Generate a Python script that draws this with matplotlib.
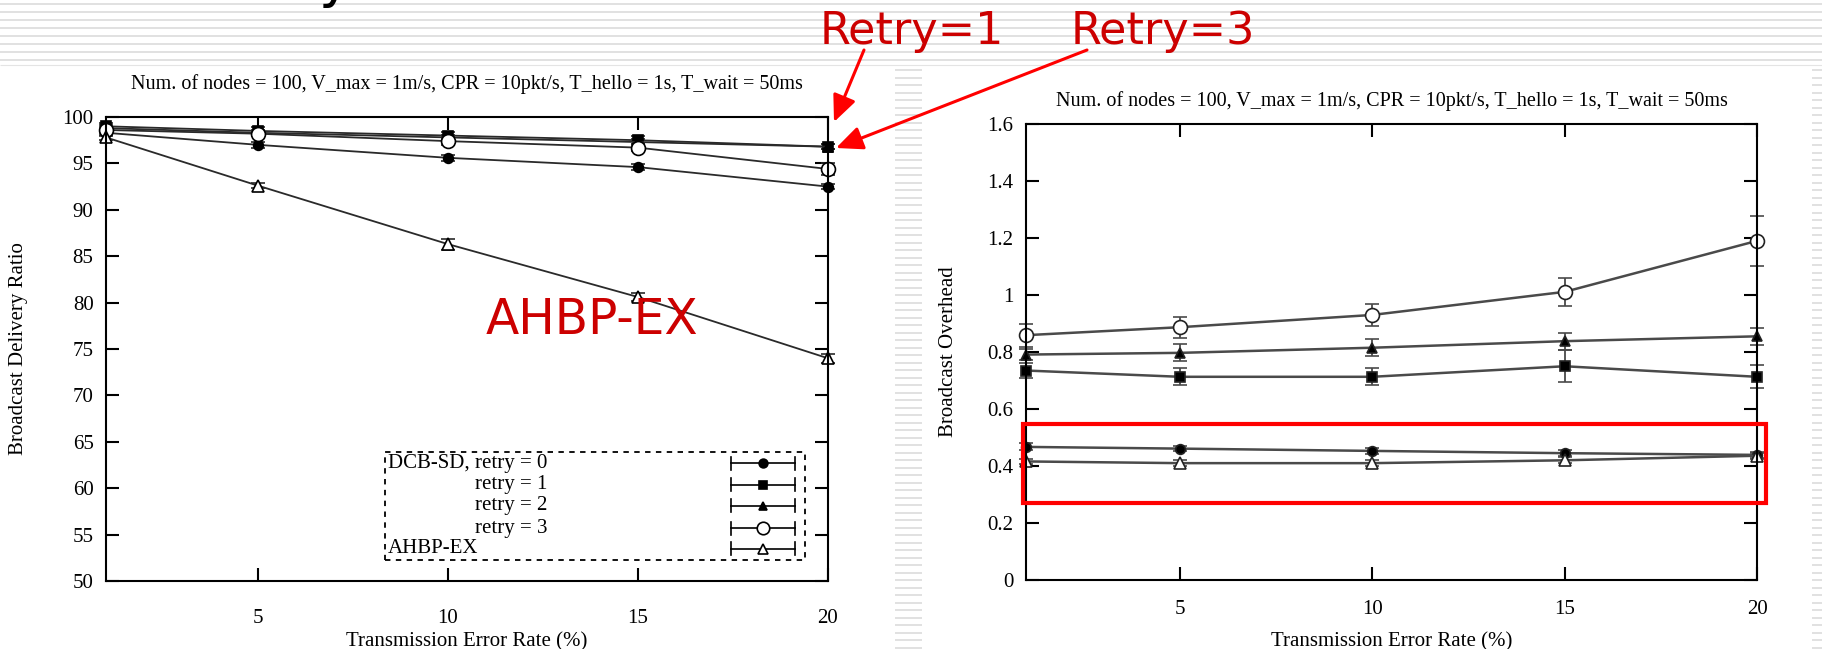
import numpy as np
import matplotlib
matplotlib.use("Agg")
import matplotlib.pyplot as plt
from matplotlib.patches import Rectangle
from matplotlib.ticker import FuncFormatter

# transmission error rate (%)
err_rate = [1, 5, 10, 15, 20]
xticks = [5, 10, 15, 20]

# broadcast delivery ratio (%)
pdr_r0 = [98.3, 97.0, 95.6, 94.6, 92.5]
pdr_r1 = [99.0, 98.5, 98.0, 97.5, 96.8]
pdr_r2 = [98.8, 98.3, 97.8, 97.3, 96.8]
pdr_r3 = [98.6, 98.2, 97.4, 96.7, 94.4]
pdr_ahbp = [97.8, 92.6, 86.3, 80.6, 74.0]
pdr_r0_err = [0.3, 0.3, 0.3, 0.3, 0.3]
pdr_r1_err = [0.3, 0.4, 0.4, 0.4, 0.3]
pdr_r2_err = [0.3, 0.3, 0.3, 0.3, 0.3]
pdr_r3_err = [0.3, 0.3, 0.4, 0.4, 0.6]
pdr_ahbp_err = [0.3, 0.3, 0.6, 0.4, 0.5]

# broadcast overhead
ovh_r0 = [0.467, 0.461, 0.453, 0.445, 0.439]
ovh_r1 = [0.735, 0.713, 0.713, 0.750, 0.713]
ovh_r2 = [0.791, 0.797, 0.815, 0.838, 0.855]
ovh_r3 = [0.859, 0.887, 0.930, 1.011, 1.190]
ovh_ahbp = [0.416, 0.410, 0.410, 0.420, 0.436]
ovh_r0_err = [0.012, 0.01, 0.01, 0.01, 0.01]
ovh_r1_err = [0.025, 0.03, 0.03, 0.057, 0.04]
ovh_r2_err = [0.02, 0.03, 0.03, 0.03, 0.03]
ovh_r3_err = [0.04, 0.037, 0.04, 0.05, 0.087]
ovh_ahbp_err = [0.01, 0.01, 0.01, 0.01, 0.01]

labels = ["DCB-SD, retry = 0", "retry = 1", "retry = 2", "retry = 3", "AHBP-EX"]
title = "Num. of nodes = 100, V_max = 1m/s, CPR = 10pkt/s, T_hello = 1s, T_wait = 50ms"

# marker, size, face
styles = [("o", 7, "black"), ("s", 7, "black"), ("^", 6.5, "black"),
          ("o", 10, "white"), ("^", 8, "white")]

plt.rcParams["font.family"] = ["Liberation Serif", "DejaVu Serif"]

W, H = 1822, 649
fig = plt.figure(figsize=(W / 100, H / 100), dpi=100)

# slide background stripes
bg = fig.add_axes([0, 0, 1, 1], zorder=-10)
bg.set_xlim(0, W)
bg.set_ylim(H, 0)
bg.axis("off")
for y in np.arange(3.5, 62, 8):
    bg.hlines(y, 0, W, color="#d8d8d8", lw=1.1)
bg.hlines(65, 0, W, color="#e4e4e4", lw=0.8)
for y in np.arange(70, H, 7.5):
    bg.hlines(y, 895, 922, color="#d8d8d8", lw=1.1)
    bg.hlines(y, 1812, W, color="#d8d8d8", lw=1.1)
fig.text(318 / W, 1 + 4 / H, "y", fontsize=40, family="DejaVu Sans",
         ha="left", va="baseline", color="black")


def style_axes(ax, xpad):
    for s in ax.spines.values():
        s.set_linewidth(1.5)
    ax.tick_params(direction="in", length=9.5, width=1.5, top=True, right=True,
                   labelsize=15)
    ax.tick_params(axis="x", pad=xpad)
    ax.tick_params(axis="y", pad=9)
    ax.set_xlim(1, 20)
    ax.set_xticks(xticks)
    ax.set_xlabel("Transmission Error Rate (%)", fontsize=15)


ax1 = fig.add_axes([106 / W, 1 - 581 / H, 722 / W, 464 / H])
ax2 = fig.add_axes([1026 / W, 1 - 580 / H, 731 / W, 456 / H])

pdr = [(pdr_r0, pdr_r0_err), (pdr_r1, pdr_r1_err), (pdr_r2, pdr_r2_err),
       (pdr_r3, pdr_r3_err), (pdr_ahbp, pdr_ahbp_err)]
ovh = [(ovh_r0, ovh_r0_err), (ovh_r1, ovh_r1_err), (ovh_r2, ovh_r2_err),
       (ovh_r3, ovh_r3_err), (ovh_ahbp, ovh_ahbp_err)]

for (vals, err), (m, ms, fc), lab in zip(pdr, styles, labels):
    ax1.errorbar(err_rate, vals, yerr=err, color="#2a2a2a", lw=1.3, marker=m,
                 ms=ms, mfc=fc, mec="black", mew=1.2, capsize=5, elinewidth=1.2,
                 capthick=1.2, clip_on=False, label=lab)
for (vals, err), (m, ms, fc) in zip(ovh, styles):
    ax2.errorbar(err_rate, vals, yerr=err, color="#4a4a4a", lw=1.8, marker=m,
                 ms=ms, mfc=fc, mec="#222222", mew=1.2, capsize=5, elinewidth=1.3,
                 capthick=1.3, clip_on=False)

style_axes(ax1, 20)
ax1.set_ylim(50, 100)
ax1.set_yticks(np.arange(50, 101, 5))
ax1.set_ylabel("Broadcast Delivery Ratio", fontsize=15)
ax1.yaxis.set_label_coords(-0.108, 0.5)
ax1.xaxis.set_label_coords(0.5, -0.11)
ax1.text(0.5, 1.071, title, transform=ax1.transAxes, ha="center", va="center",
         fontsize=14.5)

style_axes(ax2, 14.5)
ax2.set_ylim(0, 1.6)
ax2.set_yticks(np.arange(0, 1.61, 0.2))
ax2.yaxis.set_major_formatter(FuncFormatter(lambda v, p: f"{v:g}"))
ax2.set_ylabel("Broadcast Overhead", fontsize=15)
ax2.yaxis.set_label_coords(-0.093, 0.5)
ax2.xaxis.set_label_coords(0.5, -0.114)
ax2.text(0.5, 1.05, title, transform=ax2.transAxes, ha="center", va="center",
         fontsize=14.5)

# gnuplot style key, drawn by hand inside the left plot
ax1.add_patch(Rectangle((0.386, 0.045), 0.582, 0.233, transform=ax1.transAxes,
                        fill=False, lw=1.3, ls=(0, (3, 3)), ec="black", zorder=5))
key_y = [0.254, 0.207, 0.162, 0.114, 0.069]
for i, (lab, (m, ms, fc), ky) in enumerate(zip(labels, styles, key_y)):
    if i in (0, 4):
        ax1.text(0.39, ky, lab, transform=ax1.transAxes, ha="left",
                 va="center", fontsize=15)
    else:
        ax1.text(0.612, ky, lab, transform=ax1.transAxes, ha="right",
                 va="center", fontsize=15)
    ax1.plot([0.866, 0.954], [ky, ky], transform=ax1.transAxes, color="black",
             lw=1.2)
    for cx in (0.866, 0.954):
        ax1.plot([cx, cx], [ky - 0.014, ky + 0.014], transform=ax1.transAxes,
                 color="black", lw=1.2)
    ax1.plot([0.910], [ky], transform=ax1.transAxes, marker=m, ms=ms * 0.9,
             mfc=fc, mec="black", mew=1.2, ls="none")

# red slide annotations
red_txt = "#cc0000"
ax1.text(13.8, 78.1, "AHBP-EX", ha="center", va="center", fontsize=35,
         family="DejaVu Sans", color=red_txt)

fg = fig.add_axes([0, 0, 1, 1], zorder=10)
fg.set_xlim(0, W)
fg.set_ylim(H, 0)
fg.axis("off")
fg.patch.set_alpha(0)
fg.add_patch(Rectangle((1023, 424), 743, 79, fill=False, ec="#ff0000", lw=3))
fg.text(912, 44, "Retry=1", ha="center", va="baseline", fontsize=32,
        family="DejaVu Sans", color=red_txt)
fg.text(1163, 44, "Retry=3", ha="center", va="baseline", fontsize=32,
        family="DejaVu Sans", color=red_txt)
arrow = dict(arrowstyle="-|>,head_length=0.9,head_width=0.4", color="#ff0000",
             lw=2.2, shrinkA=0, shrinkB=0, mutation_scale=18)
fg.annotate("", xy=(834, 122), xytext=(864, 50), arrowprops=arrow)
fg.annotate("", xy=(836, 148), xytext=(1087, 50), arrowprops=arrow)

fig.savefig("out.png", dpi=100, facecolor="white")
